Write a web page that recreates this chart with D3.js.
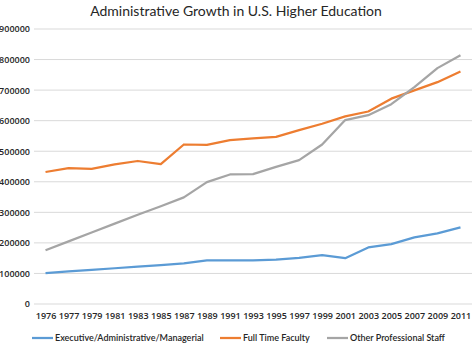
<!DOCTYPE html>
<html>
<head>
<meta charset="utf-8">
<script src="https://cdn.jsdelivr.net/npm/d3@7"></script>
<style>
	body { margin: 0; background: #fff; }
	svg text { font-family: 'Open Sans', 'Noto Sans', sans-serif; fill: #262626; }
	svg text.lato { font-family: Lato, 'Open Sans', sans-serif; }
</style>
</head>
<body>
<div class="chart"></div>
<script>
// chart data
var years = ['1976', '1977', '1979', '1981', '1983', '1985', '1987', '1989', '1991', '1993',
	'1995', '1997', '1999', '2001', '2003', '2005', '2007', '2009', '2011'];
var executive = [101000, 107000, 112000, 117000, 122000, 127000, 133000, 143000, 143000, 143000,
	145000, 151000, 160000, 150000, 185000, 196000, 218000, 231000, 251000];
var faculty = [432000, 445000, 442000, 457000, 468000, 458000, 522000, 521000, 536000, 542000,
	547000, 569000, 590000, 614000, 630000, 672000, 699000, 726000, 761000];
var otherStaff = [176000, 205000, 234000, 263000, 292000, 320000, 349000, 399000, 424000, 425000,
	449000, 471000, 522000, 602000, 618000, 654000, 710000, 772000, 814000];
var yTicks = [0, 100000, 200000, 300000, 400000, 500000, 600000, 700000, 800000, 900000];
var seriesNames = ['Executive/Administrative/Managerial', 'Full Time Faculty', 'Other Professional Staff'];
var colors = ['#5b9bd5', '#ed7d31', '#a5a5a5'];

var svgWidth = 474;
var svgHeight = 344;

var margin = { top: 29, right: 2, bottom: 40, left: 34 };
var width = svgWidth - margin.left - margin.right;
var height = svgHeight - margin.top - margin.bottom;

var svg = d3.select('.chart')
	.append('svg')
	.attr('width', svgWidth)
	.attr('height', svgHeight);

var chart = svg.append('g')
	.attr('transform', `translate(${margin.left}, ${margin.top})`);

// scales
var xScale = d3.scalePoint().domain(years).range([0, width]).padding(0.5);
var yScale = d3.scaleLinear().domain([0, 900000]).range([height, 0]);

// gridlines
chart.append('g')
	.selectAll('line')
	.data(yTicks)
	.enter()
	.append('line')
	.attr('x1', 0)
	.attr('x2', width)
	.attr('y1', function(d) { return yScale(d); })
	.attr('y2', function(d) { return yScale(d); })
	.attr('stroke', '#d9d9d9')
	.attr('stroke-width', 1);

// y axis labels
var leftAxis = d3.axisLeft(yScale).tickValues(yTicks).tickSize(0).tickPadding(4).tickFormat(d3.format('d'));
var yAxisG = chart.append('g').call(leftAxis);
yAxisG.select('.domain').remove();
yAxisG.selectAll('text').style('font-size', '9px').style('font-weight', '600');

// x axis labels
var bottomAxis = d3.axisBottom(xScale).tickSize(0).tickPadding(9);
var xAxisG = chart.append('g')
	.attr('transform', `translate(0, ${height})`)
	.call(bottomAxis);
xAxisG.select('.domain').remove();
xAxisG.selectAll('text').style('font-size', '9px').style('font-weight', '600');

// lines
var line = d3.line()
	.x(function(d, i) { return xScale(years[i]); })
	.y(function(d) { return yScale(d); });

[executive, faculty, otherStaff].forEach(function(values, i) {
	chart.append('path')
		.datum(values)
		.attr('fill', 'none')
		.attr('stroke', colors[i])
		.attr('stroke-width', 2.25)
		.attr('stroke-linejoin', 'round')
		.attr('d', line);
});

// title
svg.append('text')
	.attr('class', 'lato')
	.attr('x', 236)
	.attr('y', 16)
	.style('text-anchor', 'middle')
	.style('font-size', '14px')
	.text('Administrative Growth in U.S. Higher Education');

// legend
var legendX = [32, 220, 327];
var legend = svg.append('g').attr('transform', 'translate(0, 338)');
seriesNames.forEach(function(name, i) {
	legend.append('line')
		.attr('x1', legendX[i])
		.attr('x2', legendX[i] + 21)
		.attr('y1', 0)
		.attr('y2', 0)
		.attr('stroke', colors[i])
		.attr('stroke-width', 2.25);
	legend.append('text')
		.attr('class', 'lato')
		.attr('x', legendX[i] + 23)
		.attr('y', 3.2)
		.style('font-size', '9px')
		.style('font-weight', '600')
		.text(name);
});
</script>
</body>
</html>
